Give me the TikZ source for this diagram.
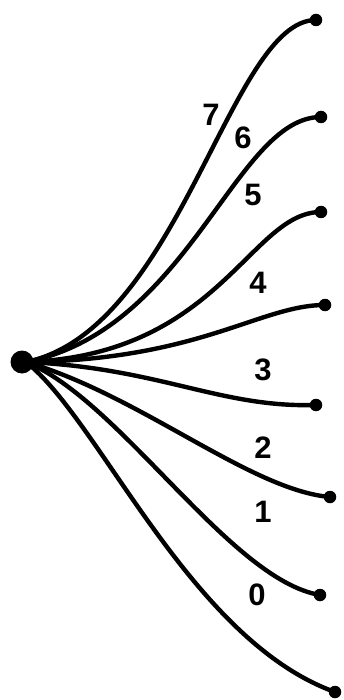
\documentclass[tikz,border=0pt]{standalone}
\usepackage{fontspec}
\setmainfont{Liberation Sans}
\begin{document}
\begin{tikzpicture}[x=1pt,y=-1pt,
  wire/.style={line width=4.4pt,line cap=round},
  enddot/.style={circle,fill=black,inner sep=0pt,minimum size=12.5pt},
  hubdot/.style={circle,fill=black,inner sep=0pt,minimum size=23pt},
  lbl/.style={font=\fontsize{31}{31}\selectfont\bfseries,inner sep=0pt}]
\useasboundingbox (0,0) rectangle (344,700);
\node[hubdot] (h) at (22,362) {};
\coordinate (hc) at (26,362);
\node[enddot] (e7) at (316,20) {};
\node[enddot] (e6) at (321,117) {};
\node[enddot] (e5) at (321,212) {};
\node[enddot] (e4) at (325,305) {};
\node[enddot] (e3) at (316,405) {};
\node[enddot] (e2) at (330,497) {};
\node[enddot] (e1) at (320,595) {};
\node[enddot] (e0) at (335,692) {};
\draw[wire] (hc) .. controls (180,330) and (230,20) .. (e7.center);
\draw[wire] (hc) .. controls (190,330) and (235,117) .. (e6.center);
\draw[wire] (hc) .. controls (220,355) and (250,212) .. (e5.center);
\draw[wire] (hc) .. controls (200,360) and (260,305) .. (e4.center);
\draw[wire] (hc) .. controls (160,368) and (220,408) .. (e3.center);
\draw[wire] (hc) .. controls (140,395) and (250,490) .. (e2.center);
\draw[wire] (hc) .. controls (120,400) and (230,580) .. (e1.center);
\draw[wire] (hc) .. controls (100,420) and (190,640) .. (e0.center);
\node[lbl] (l7) at (211,115) {7};
\node[lbl] (l6) at (243,138) {6};
\node[lbl] (l5) at (253,195) {5};
\node[lbl] (l4) at (258,283) {4};
\node[lbl] (l3) at (263,370) {3};
\node[lbl] (l2) at (263,448) {2};
\node[lbl] (l1) at (263,512) {1};
\node[lbl] (l0) at (257,595) {0};
\end{tikzpicture}
\end{document}
